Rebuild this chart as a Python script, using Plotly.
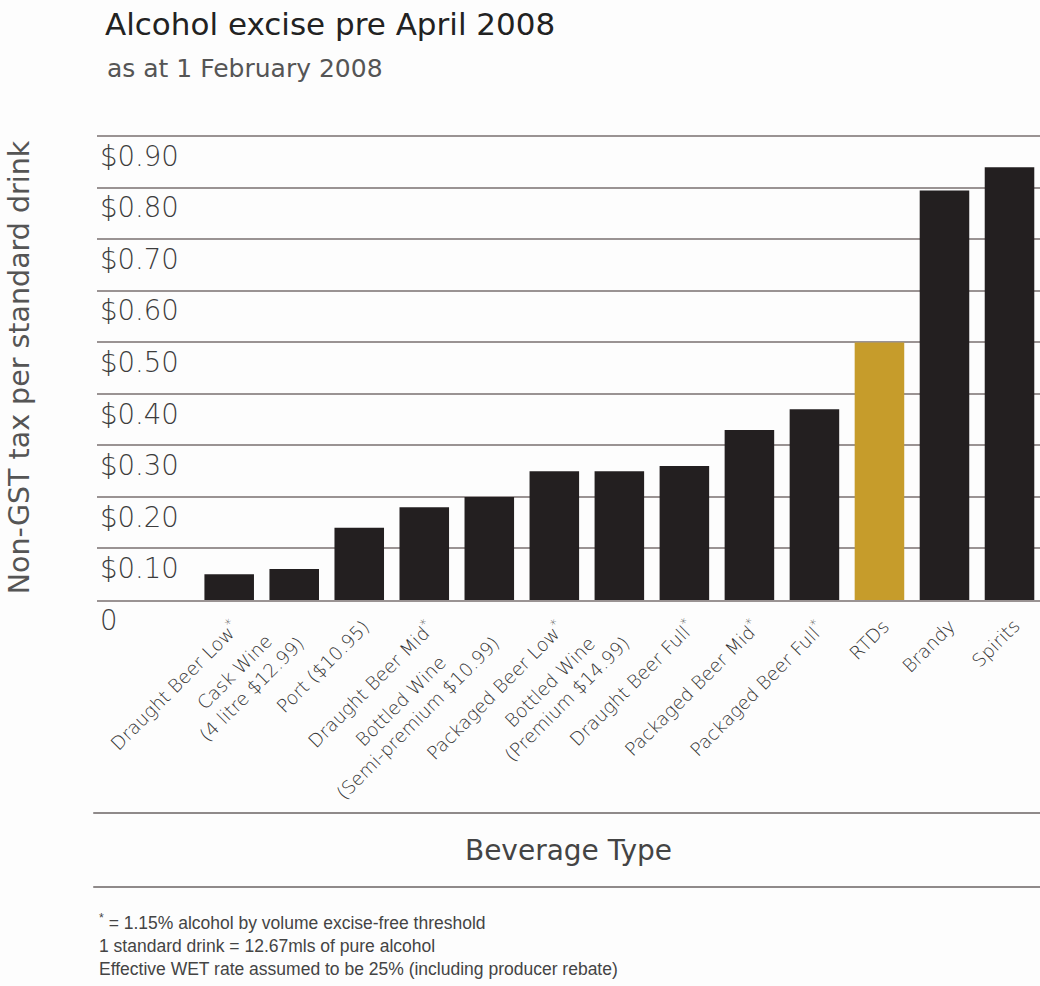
import plotly.graph_objects as go

# Beverage categories and excise (non-GST tax) per standard drink, in dollars
beverages = [
    "Draught Beer Low*",
    "Cask Wine (4 litre $12.99)",
    "Port ($10.95)",
    "Draught Beer Mid*",
    "Bottled Wine (Semi-premium $10.99)",
    "Packaged Beer Low*",
    "Bottled Wine (Premium $14.99)",
    "Draught Beer Full*",
    "Packaged Beer Mid*",
    "Packaged Beer Full*",
    "RTDs",
    "Brandy",
    "Spirits",
]
tax_per_drink = [0.05, 0.06, 0.14, 0.18, 0.20, 0.25, 0.25, 0.26, 0.33, 0.37, 0.50, 0.795, 0.84]

# Display text for each category label (line breaks and superscript markers)
beverage_labels = [
    "Draught Beer Low<sup>*</sup>",
    "Cask Wine<br>(4 litre $12.99)",
    "Port ($10.95)",
    "Draught Beer Mid<sup>*</sup>",
    "Bottled Wine<br>(Semi-premium $10.99)",
    "Packaged Beer Low<sup>*</sup>",
    "Bottled Wine<br>(Premium $14.99)",
    "Draught Beer Full<sup>*</sup>",
    "Packaged Beer Mid<sup>*</sup>",
    "Packaged Beer Full<sup>*</sup>",
    "RTDs",
    "Brandy",
    "Spirits",
]

y_tickvals = [0, 0.1, 0.2, 0.3, 0.4, 0.5, 0.6, 0.7, 0.8, 0.9]
y_ticktext = ["0", "$0.10", "$0.20", "$0.30", "$0.40", "$0.50",
              "$0.60", "$0.70", "$0.80", "$0.90"]

chart_title = "Alcohol excise pre April 2008"
chart_subtitle = "as at 1 February 2008"
x_title = "Beverage Type"
y_title = "Non-GST tax per standard drink"

footnotes = [
    "<sup>*</sup> = 1.15% alcohol by volume excise-free threshold",
    "1 standard drink = 12.67mls of pure alcohol",
    "Effective WET rate assumed to be 25% (including producer rebate)",
]

HIGHLIGHT = "RTDs"
BAR_DARK = "#231f20"
BAR_GOLD = "#c69c2b"
GRID = "#9a9393"
WIDE_FONT = "DejaVu Sans"

bar_colors = [BAR_GOLD if b == HIGHLIGHT else BAR_DARK for b in beverages]

fig = go.Figure(
    go.Bar(
        x=beverages,
        y=tax_per_drink,
        marker=dict(color=bar_colors, line=dict(width=0)),
        hoverinfo="x+y",
    )
)

# Rotated category labels beneath each bar
for b, lab in zip(beverages, beverage_labels):
    fig.add_annotation(
        x=b, xref="x", y=0, yref="paper",
        text=lab, textangle=-45, showarrow=False,
        xanchor="right", yanchor="top", align="center",
        xshift=17, yshift=-13,
        font=dict(family=WIDE_FONT, size=18.5, color="#333333", weight=300),
    )

# Subtitle under the main title
fig.add_annotation(
    x=0.0085, xref="paper", y=1.144, yref="paper",
    text=chart_subtitle, showarrow=False,
    xanchor="left", yanchor="middle",
    font=dict(family=WIDE_FONT, size=25, color="#555555"),
)

# Footnotes
fig.add_annotation(
    x=0, xref="paper", y=-0.664, yref="paper",
    text="<br>".join(footnotes), showarrow=False,
    xanchor="left", yanchor="top", align="left",
    font=dict(family="Liberation Sans", size=17.5, color="#444444"),
)

# Rules framing the axis title band
for ypos in (-0.458, -0.617):
    fig.add_shape(
        type="line", xref="paper", yref="paper",
        x0=-0.004, x1=1.0, y0=ypos, y1=ypos,
        line=dict(color="#8f8a8a", width=2),
    )

fig.update_layout(
    width=1040,
    height=986,
    margin=dict(l=97, r=0, t=135, b=386),
    paper_bgcolor="#fdfdfd",
    plot_bgcolor="#fdfdfd",
    bargap=0.238,
    showlegend=False,
    title=dict(
        text=chart_title,
        xref="container", x=105 / 1040, xanchor="left",
        yref="container", y=1 - 24 / 986, yanchor="middle",
        font=dict(family=WIDE_FONT, size=31, color="#222222"),
    ),
    xaxis=dict(
        type="category",
        range=[-2.033, 12.469],
        showticklabels=False,
        ticks="",
        showgrid=False,
        showline=True,
        linecolor=GRID,
        linewidth=1.5,
        zeroline=False,
        title=dict(
            text=x_title,
            standoff=240,
            font=dict(family=WIDE_FONT, size=28, color="#444444"),
        ),
        automargin=False,
    ),
    yaxis=dict(
        range=[0, 0.9025],
        tickvals=y_tickvals,
        ticktext=y_ticktext,
        ticks="",
        ticklabelposition="inside",
        ticklabelshift=20,
        ticklabelstandoff=0,
        ticklabeloverflow="allow",
        tickfont=dict(family=WIDE_FONT, size=27.5, color="#3c3c3c", weight=300),
        showgrid=True,
        gridcolor=GRID,
        gridwidth=1.5,
        zeroline=False,
        showline=False,
        title=dict(
            text=y_title,
            standoff=62,
            font=dict(family=WIDE_FONT, size=28.5, color="#555555"),
        ),
        automargin=False,
    ),
)

fig.write_html("out.html", config={"displayModeBar": False})
